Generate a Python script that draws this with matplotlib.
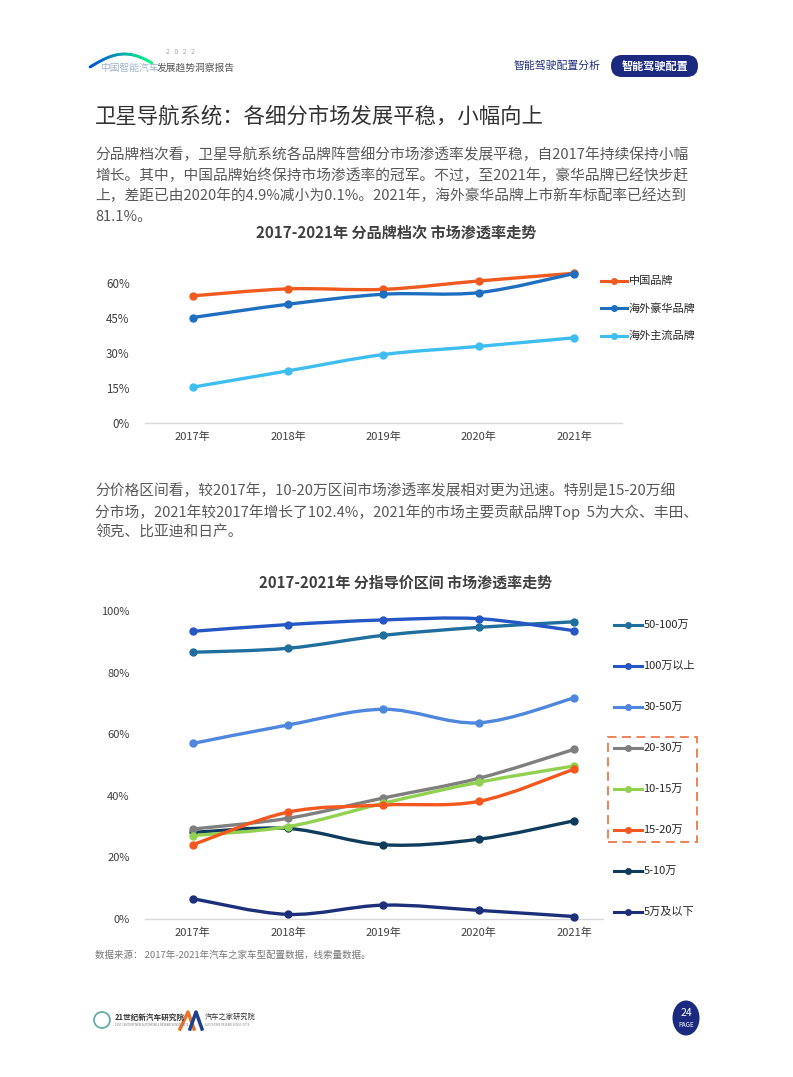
import matplotlib
matplotlib.use("Agg")
import matplotlib.pyplot as plt
from matplotlib.path import Path
from matplotlib.patches import PathPatch, FancyBboxPatch, Rectangle, Ellipse
import numpy as np

plt.rcParams['font.family'] = ['Noto Sans CJK SC', 'DejaVu Sans']

# ---------------- data ----------------
years = ["2017年", "2018年", "2019年", "2020年", "2021年"]

brand_names = ["中国品牌", "海外豪华品牌", "海外主流品牌"]
brand_cn = [54.6, 57.6, 57.4, 61.0, 64.3]
brand_lux = [45.3, 51.0, 55.3, 56.0, 64.2]
brand_main = [15.4, 22.4, 29.4, 32.9, 36.6]
brand_ticks = [0, 15, 30, 45, 60]

price_names = ["50-100万", "100万以上", "30-50万", "20-30万", "10-15万", "15-20万", "5-10万", "5万及以下"]
p_50_100 = [86.6, 87.9, 92.1, 94.7, 96.5]
p_100up = [93.4, 95.6, 97.1, 97.5, 93.6]
p_30_50 = [57.0, 63.0, 68.1, 63.7, 71.8]
p_20_30 = [29.2, 32.7, 39.3, 45.7, 55.1]
p_10_15 = [27.1, 30.0, 37.6, 44.4, 49.7]
p_15_20 = [24.1, 34.7, 37.0, 38.2, 48.7]
p_5_10 = [28.1, 29.4, 24.1, 25.9, 31.9]
p_5down = [6.6, 1.5, 4.5, 2.8, 0.8]
price_ticks = [0, 20, 40, 60, 80, 100]

W, H = 793, 1077
fig = plt.figure(figsize=(W / 100, H / 100), dpi=100)
fig.patch.set_facecolor("white")


def fx(x):
    return x / W


def fy(y):
    return 1 - y / H


def ftext(x, y, s, **kw):
    kw.setdefault("va", "center")
    return fig.text(fx(x), fy(y), s, **kw)


def add_axes_px(x0, y0, x1, y1):
    return fig.add_axes([fx(x0), fy(y1), (x1 - x0) / W, (y1 - y0) / H])


def smooth_line(ax, xs, ys, color, lw):
    pts = np.column_stack([xs, ys]).astype(float)
    n = len(pts)
    verts = [pts[0]]
    codes = [Path.MOVETO]
    for i in range(n - 1):
        p0 = pts[i - 1] if i > 0 else pts[i]
        p1 = pts[i]
        p2 = pts[i + 1]
        p3 = pts[i + 2] if i + 2 < n else pts[i + 1]
        c1 = p1 + (p2 - p0) / 6.0
        c2 = p2 - (p3 - p1) / 6.0
        verts += [c1, c2, p2]
        codes += [Path.CURVE4] * 3
    patch = PathPatch(Path(verts, codes), facecolor="none", edgecolor=color,
                      lw=lw, capstyle="round", joinstyle="round", clip_on=False, zorder=3)
    ax.add_patch(patch)
    ax.plot(xs, ys, linestyle="none", marker="o", markersize=5, color=color,
            clip_on=False, zorder=4)


# ---------------- header ----------------
t = np.linspace(0, 1, 40)
sx = 90 + 62 * t
sy = 67 - 13 * np.sin(np.pi * t * 0.9)
for i in range(len(t) - 1):
    c = plt.cm.winter(0.3 + 0.7 * t[i])
    fig.add_artist(plt.Line2D([fx(sx[i]), fx(sx[i + 1])], [fy(sy[i]), fy(sy[i + 1])],
                              color=c, lw=2.0, solid_capstyle="round"))
ftext(180, 52, "2   0   2   2", fontsize=5, color="#aaaaaa", ha="center")
ftext(100, 68, "中国智能汽车", fontsize=7, color="#9fb3c8", ha="left")
ftext(157, 68, "发展趋势洞察报告", fontsize=7, color="#555555", ha="left")

ftext(557, 66, "智能驾驶配置分析", fontsize=7.8, color="#1f2d7a", ha="center")
pill = FancyBboxPatch((fx(611), fy(77)), (698 - 611) / W, (77 - 55) / H,
                      boxstyle="round,pad=0,rounding_size=0.0138", transform=fig.transFigure,
                      facecolor="#1b2a7f", edgecolor="none", mutation_aspect=W / H)
fig.add_artist(pill)
ftext(654.5, 66, "智能驾驶配置", fontsize=8, color="white", ha="center", fontweight="bold")

# ---------------- title & paragraph 1 ----------------
ftext(95, 117, "卫星导航系统：各细分市场发展平稳，小幅向上", fontsize=15.4, color="#333333", ha="left")

para1 = ["分品牌档次看，卫星导航系统各品牌阵营细分市场渗透率发展平稳，自2017年持续保持小幅",
         "增长。其中，中国品牌始终保持市场渗透率的冠军。不过，至2021年，豪华品牌已经快步赶",
         "上，差距已由2020年的4.9%减小为0.1%。2021年，海外豪华品牌上市新车标配率已经达到",
         "81.1%。"]
for i, line in enumerate(para1):
    ftext(95, 155 + i * 20.5, line, fontsize=10.6, color="#595959", ha="left")

# ---------------- chart 1 ----------------
ftext(396, 233, "2017-2021年 分品牌档次 市场渗透率走势", fontsize=10.9, color="#404040",
      ha="center", fontweight="semibold")

ax1 = add_axes_px(145, 260, 622, 423)
ax1.set_xlim(-0.5, 4.5)
ax1.set_ylim(0, 70)
for s in ["top", "right", "left"]:
    ax1.spines[s].set_visible(False)
ax1.spines["bottom"].set_color("#d9d9d9")
ax1.spines["bottom"].set_linewidth(1)
ax1.set_yticks(brand_ticks)
ax1.set_yticklabels([f"{v}%" for v in brand_ticks], fontsize=8.3, color="#404040")
ax1.set_xticks(range(len(years)))
ax1.set_xticklabels(years, fontsize=8, color="#404040")
ax1.tick_params(length=0, pad=6)
ax1.tick_params(axis="y", pad=11)
ax1.patch.set_alpha(0)

brand_series = [brand_cn, brand_lux, brand_main]
brand_colors = ["#f05a1e", "#1f6fc1", "#3ebef0"]
xs = np.arange(len(years))
for vals, col in zip(brand_series, brand_colors):
    smooth_line(ax1, xs, vals, col, 2.4)

for i, (name, col) in enumerate(zip(brand_names, brand_colors)):
    yy = 281 + i * 27.3
    fig.add_artist(plt.Line2D([fx(601), fx(627)], [fy(yy), fy(yy)], color=col, lw=2.2))
    fig.add_artist(plt.Line2D([fx(614)], [fy(yy)], color=col, marker="o", markersize=4))
    ftext(629, yy, name, fontsize=8, color="#262626", ha="left")

# ---------------- paragraph 2 ----------------
para2 = ["分价格区间看，较2017年，10-20万区间市场渗透率发展相对更为迅速。特别是15-20万细",
         "分市场，2021年较2017年增长了102.4%，2021年的市场主要贡献品牌Top  5为大众、丰田、",
         "领克、比亚迪和日产。"]
for i, line in enumerate(para2):
    ftext(95, 491 + i * 21, line, fontsize=10.6, color="#595959", ha="left")

# ---------------- chart 2 ----------------
ftext(406, 583, "2017-2021年 分指导价区间 市场渗透率走势", fontsize=10.8, color="#404040",
      ha="center", fontweight="semibold")

ax2 = add_axes_px(145, 611, 622, 919)
ax2.set_xlim(-0.5, 4.5)
ax2.set_ylim(0, 100)
for s in ["top", "right", "left"]:
    ax2.spines[s].set_visible(False)
ax2.spines["bottom"].set_color("#d9d9d9")
ax2.spines["bottom"].set_linewidth(1)
ax2.spines["bottom"].set_bounds(-0.5, 4.3)
ax2.set_yticks(price_ticks)
ax2.set_yticklabels([f"{v}%" for v in price_ticks], fontsize=8, color="#404040")
ax2.set_xticks(range(len(years)))
ax2.set_xticklabels(years, fontsize=8, color="#404040")
ax2.tick_params(length=0, pad=6)
ax2.tick_params(axis="y", pad=11)
ax2.patch.set_alpha(0)

price_series = [p_50_100, p_100up, p_30_50, p_20_30, p_10_15, p_15_20, p_5_10, p_5down]
price_colors = ["#1f6e9e", "#2457c5", "#4f86de", "#7f7f7f", "#92d050", "#f4581e", "#0f3b5c", "#1c2f7a"]
draw_order = [6, 7, 3, 4, 5, 2, 0, 1]
for k in draw_order:
    smooth_line(ax2, xs, price_series[k], price_colors[k], 2.4)

for i, (name, col) in enumerate(zip(price_names, price_colors)):
    yy = 624.5 + i * 41.1
    fig.add_artist(plt.Line2D([fx(614), fx(642)], [fy(yy), fy(yy)], color=col, lw=2.2))
    fig.add_artist(plt.Line2D([fx(628)], [fy(yy)], color=col, marker="o", markersize=4))
    ftext(643.5, yy, name, fontsize=8, color="#262626", ha="left")

box = Rectangle((fx(607.5), fy(842)), (696.5 - 607.5) / W, (842 - 736.5) / H,
                transform=fig.transFigure, facecolor="none", edgecolor="#ee7a4a",
                lw=1.3, linestyle=(0, (5, 3)))
fig.add_artist(box)

# ---------------- source & footer ----------------
ftext(95, 955, "数据来源： 2017年-2021年汽车之家车型配置数据，线索量数据。", fontsize=6.8,
      color="#777777", ha="left")

fig.add_artist(Ellipse((fx(102), fy(1020)), 16 / W, 16 / H, transform=fig.transFigure,
                       facecolor="none", edgecolor="#5aa9a0", lw=1.2))
ftext(115, 1017, "21世纪新汽车研究院", fontsize=5.5, color="#333333", ha="left", fontweight="bold")
ftext(115, 1025, "21ST CENTURY NEW AUTOMOBILE RESEARCH INSTITUTE", fontsize=2, color="#777777", ha="left")
fig.add_artist(plt.Line2D([fx(180), fx(188), fx(194)], [fy(1029), fy(1012), fy(1029)],
                          color="#e8742a", lw=2.5))
fig.add_artist(plt.Line2D([fx(190), fx(196), fx(202)], [fy(1029), fy(1012), fy(1029)],
                          color="#1f3f8f", lw=2.5))
ftext(205, 1017, "汽车之家研究院", fontsize=5.2, color="#333333", ha="left")
ftext(205, 1025, "AUTOHOME RESEARCH INSTITUTE", fontsize=2, color="#888888", ha="left")

fig.add_artist(Ellipse((fx(686), fy(1018)), 27 / W, 35 / H, transform=fig.transFigure,
                       facecolor="#1b2a7f", edgecolor="none"))
ftext(686, 1013, "24", fontsize=7.5, color="white", ha="center")
ftext(686, 1025, "PAGE", fontsize=4.5, color="white", ha="center")

fig.savefig("out.png", dpi=100, facecolor="white")
